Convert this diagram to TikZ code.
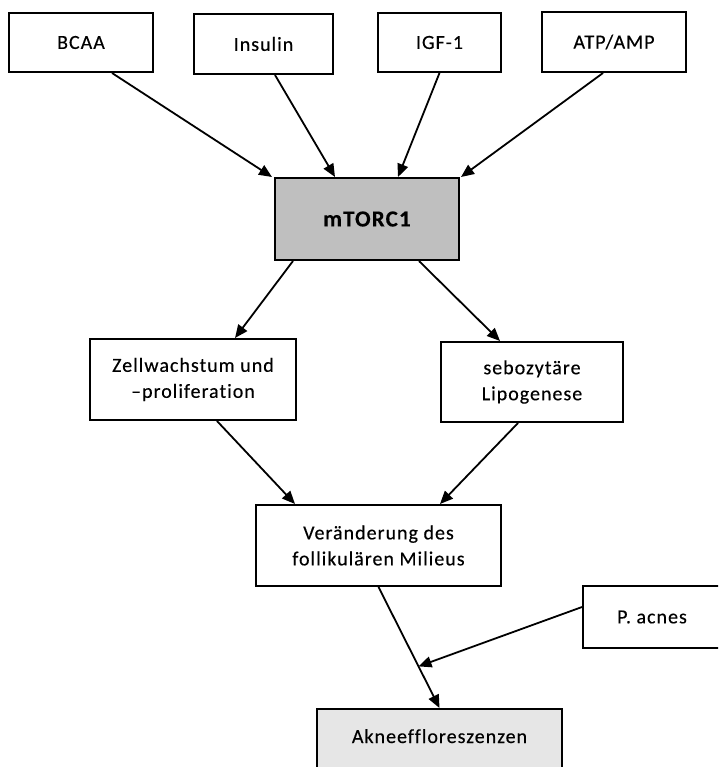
\documentclass[tikz,border=0pt]{standalone}
\usepackage{fontspec}
\setmainfont{Carlito}[LetterSpace=5,Ligatures=NoCommon,FakeBold=0.3]
\usetikzlibrary{arrows.meta,calc}
\begin{document}
\begin{tikzpicture}[x=1pt,y=-1pt,
  box/.style={draw=black,line width=2pt,fill=white,inner sep=0pt,align=center,
    font=\fontsize{20}{26}\selectfont},
  flow/.style={line width=1.8pt,-{Triangle[length=13pt,width=11pt]}}]
\useasboundingbox (0,0) rectangle (718,767);
\begin{scope}
\clip (0,0) rectangle (718,767);
% inputs
\node[box,minimum width=144,minimum height=59] (bcaa) at (81,42.5) {BCAA};
\node[box,minimum width=139,minimum height=60] (ins) at (263.5,44) {Insulin};
\node[box,minimum width=123,minimum height=59] (igf) at (439.5,42.5) {IGF-1};
\node[box,minimum width=144,minimum height=60] (atp) at (614,42) {ATP/AMP};
% central complex
\node[box,fill={rgb,255:red,191;green,191;blue,191},minimum width=184,minimum height=82,
  font=\fontsize{23}{28}\selectfont\bfseries] (mtor) at (367,219) {mTORC1};
% effects
\node[box,minimum width=206,minimum height=81] (zell) at (193,379.5) {Zellwachstum und\\–proliferation};
\node[box,minimum width=182,minimum height=80] (sebo) at (532,382) {sebozytäre\\Lipogenese};
\node[box,minimum width=245,minimum height=81] (ver) at (378.5,545.5) {Veränderung des\\follikulären Milieus};
\node[box,minimum width=138,minimum height=62] (pac) at (652,617) {P. acnes};
\node[box,fill={rgb,255:red,230;green,230;blue,230},minimum width=245,minimum height=81,
  anchor=north,text height=14pt,text depth=27pt] (akne) at (439.5,708) {Akneeffloreszenzen};
% connectors
\draw[flow] ([xshift=31]bcaa.south) -- ([xshift=-2]mtor.north west);
\draw[flow] ([xshift=11.5]ins.south) -- ([xshift=-32]mtor.north);
\draw[flow] (igf.south) -- ([xshift=31]mtor.north);
\draw[flow] ([xshift=-11]atp.south) -- ([xshift=1]mtor.north east);
\draw[flow] ([xshift=-74]mtor.south) -- ([xshift=42]zell.north);
\draw[flow] ([xshift=52]mtor.south) -- ([xshift=-32]sebo.north);
\draw[flow] ([xshift=24]zell.south) -- ([xshift=-83.5]ver.north);
\draw[flow] ([xshift=-14]sebo.south) -- ([xshift=61.5]ver.north);
\draw[flow] (ver.south) -- (akne.north);
\coordinate (join) at ($(ver.south)!0.656!(akne.north)$);
\draw[flow] ([yshift=10]pac.west) -- (join);
\end{scope}
\end{tikzpicture}
\end{document}
